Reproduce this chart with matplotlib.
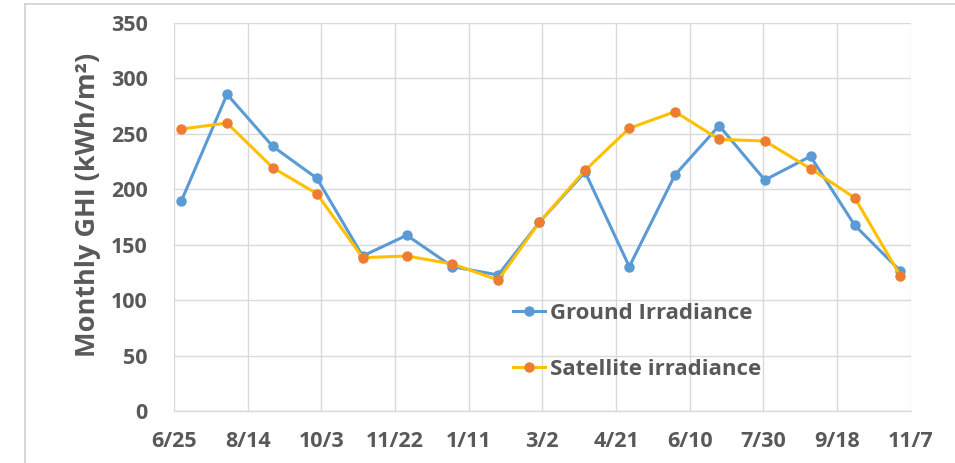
import matplotlib
matplotlib.use("Agg")
import matplotlib.pyplot as plt
from matplotlib.lines import Line2D
import pandas as pd

dates = ["2018-06-30", "2018-07-31", "2018-08-31", "2018-09-30", "2018-10-31",
         "2018-11-30", "2018-12-31", "2019-01-31", "2019-02-28", "2019-03-31",
         "2019-04-30", "2019-05-31", "2019-06-30", "2019-07-31", "2019-08-31",
         "2019-09-30", "2019-10-31"]
ground = [189.5, 285.6, 238.7, 209.9, 139.9, 158.6, 130.3, 122.8, 170.3,
          215.6, 130.3, 212.9, 257.3, 208.4, 229.7, 167.6, 126.4]
satellite = [254.3, 259.7, 219.5, 196.0, 138.4, 139.9, 132.7, 118.3, 170.3,
             217.1, 255.0, 269.9, 245.0, 243.5, 218.6, 192.4, 121.9]
tick_dates = ["2018-06-25", "2018-08-14", "2018-10-03", "2018-11-22", "2019-01-11",
              "2019-03-02", "2019-04-21", "2019-06-10", "2019-07-30", "2019-09-18",
              "2019-11-07"]
tick_labels = ["6/25", "8/14", "10/3", "11/22", "1/11", "3/2", "4/21", "6/10",
               "7/30", "9/18", "11/7"]
y_ticks = [0, 50, 100, 150, 200, 250, 300, 350]

FONT = "Open Sans"
TXT = "#595959"
GRID = "#D9D9D9"

x = pd.to_datetime(dates)
xt = pd.to_datetime(tick_dates)

fig = plt.figure(figsize=(9.55, 4.63), dpi=100)
ax = fig.add_axes([174/955, 1-411.3/463, (910.7-174)/955, (411.3-22.8)/463])

ax.plot(x, ground, color="#5B9BD5", lw=2.2, marker="o", ms=6.5,
        mfc="#5B9BD5", mec="#5B9BD5", zorder=3)
ax.plot(x, satellite, color="#FFC000", lw=2.2, marker="o", ms=6.5,
        mfc="#ED7D31", mec="#ED7D31", zorder=4)

ax.set_xlim(xt[0], xt[-1])
ax.set_ylim(0, 350)
ax.set_xticks(xt)
ax.set_xticklabels(tick_labels)
ax.set_yticks(y_ticks)
ax.set_yticklabels([str(v) for v in y_ticks])
ax.grid(True, color=GRID, lw=1.0)
ax.set_axisbelow(True)
for s in ["top", "right", "left"]:
    ax.spines[s].set_visible(False)
ax.spines["bottom"].set_color(GRID)
ax.spines["bottom"].set_linewidth(1.0)
ax.tick_params(length=0, colors=TXT, labelsize=15.5)
ax.tick_params(axis="x", pad=14)
ax.tick_params(axis="y", pad=19)
for lab in ax.get_xticklabels() + ax.get_yticklabels():
    lab.set_fontfamily(FONT)
    lab.set_fontweight("bold")
    lab.set_color(TXT)

fig.text(88/955, 1-205/463, "Monthly GHI (kWh/m²)", rotation=90,
         ha="center", va="center", fontsize=19.5, fontweight="bold",
         color=TXT, family=FONT)

handles = [Line2D([], [], color="#5B9BD5", lw=2.2, marker="o", ms=6.5,
                  mfc="#5B9BD5", mec="#5B9BD5"),
           Line2D([], [], color="#FFC000", lw=2.2, marker="o", ms=6.5,
                  mfc="#ED7D31", mec="#ED7D31")]
leg = ax.legend(handles, ["Ground Irradiance", "Satellite irradiance"],
                loc="upper left", bbox_to_anchor=(513/955, 1-303/463),
                bbox_transform=fig.transFigure, frameon=False,
                prop={"family": FONT, "weight": "bold", "size": 16},
                handlelength=1.45, handletextpad=0.2, labelspacing=1.58,
                borderpad=0, borderaxespad=0)
for t in leg.get_texts():
    t.set_color(TXT)

# outer frame
fig.add_artist(Line2D([25/955, 1], [1-4/463, 1-4/463], color="#D0D0D0", lw=1.2,
                      transform=fig.transFigure))
fig.add_artist(Line2D([25/955, 25/955], [0, 1-4/463], color="#D0D0D0", lw=1.2,
                      transform=fig.transFigure))

fig.savefig("out.png", dpi=100, facecolor="white")
